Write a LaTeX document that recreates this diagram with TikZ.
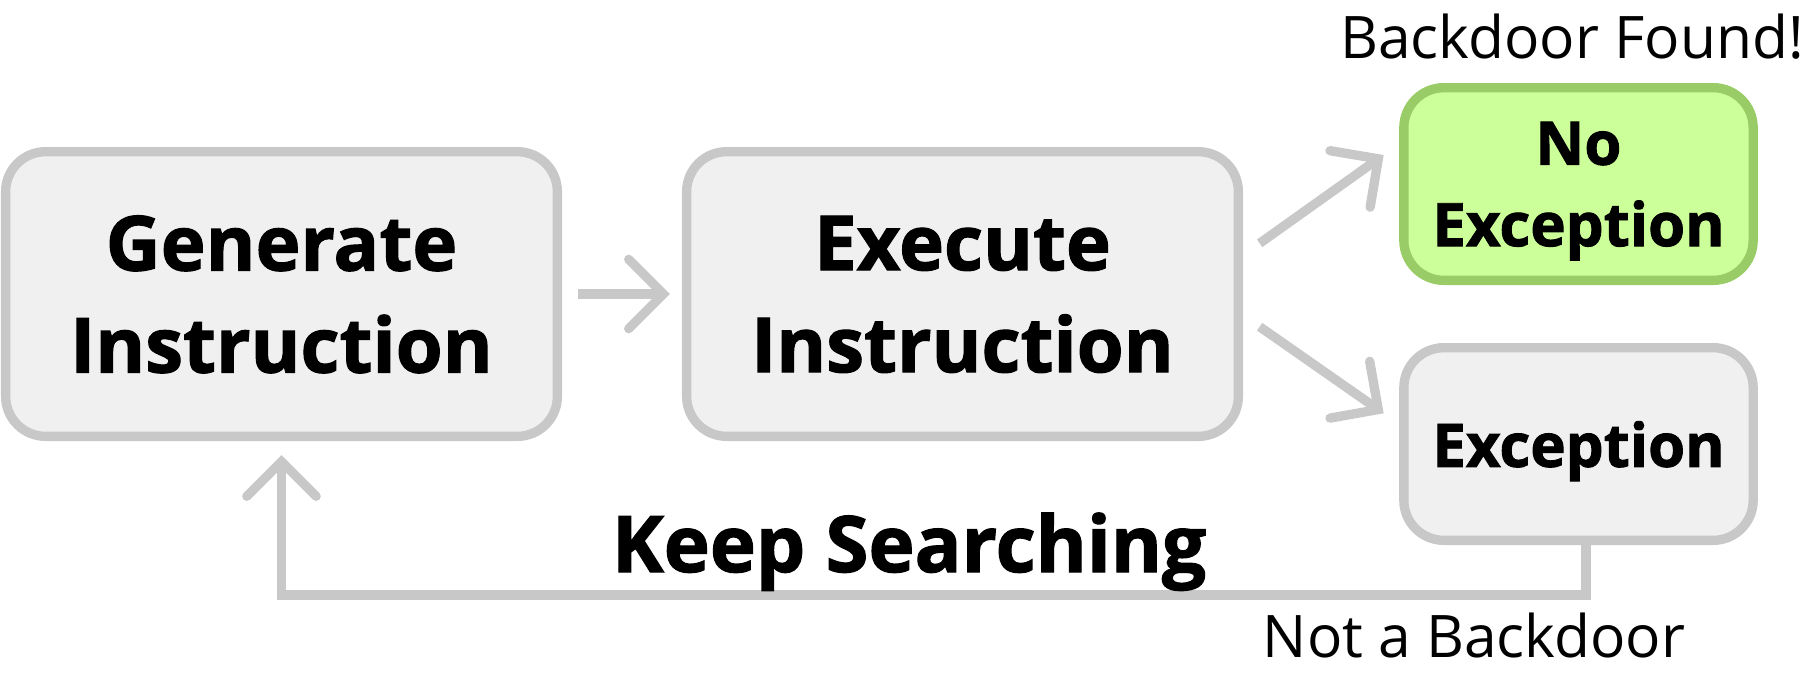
\documentclass[tikz,border=0pt]{standalone}
\usepackage{fontspec}
\setmainfont{Open Sans}[BoldFeatures={FakeBold=1.5}]
\usetikzlibrary{arrows.meta,calc}

\definecolor{linegray}{RGB}{200,200,200}
\definecolor{boxgray}{RGB}{240,240,240}
\definecolor{okfill}{RGB}{204,255,153}
\definecolor{okline}{RGB}{153,204,102}

\tikzset{every picture/.style={line width=7pt}}
\tikzset{
  bigbox/.style={draw=linegray, fill=boxgray, rounded corners=30pt,
    minimum width=413.8pt, minimum height=213.5pt, inner sep=0pt,
    align=center, text depth=0pt, font=\fontsize{57}{76.5}\selectfont\bfseries},
  smallbox/.style={draw=linegray, fill=boxgray, rounded corners=30pt,
    minimum width=262pt, minimum height=144.5pt, inner sep=0pt,
    align=center, text depth=0pt, font=\fontsize{45}{61}\selectfont\bfseries},
  okbox/.style={smallbox, draw=okline, fill=okfill},
  flow/.style={draw=linegray, -{Straight Barb[length=26pt, width=52pt, line cap=round, line join=miter]}},
  note/.style={inner sep=0pt, text depth=0pt, font=\fontsize{44}{53}\selectfont},
  keeplabel/.style={inner sep=0pt, text depth=0pt, font=\fontsize{58.5}{68}\selectfont\bfseries}
}

\begin{document}
\begin{tikzpicture}[x=0.75pt,y=0.75pt,yscale=-1,xscale=1]
    \useasboundingbox (0,0) rectangle (1810,676);

    %Rounded Rect [gen]
    \node[bigbox] (gen) at (281.5,294) {Generate\\Instruction};
    %Rounded Rect [exe]
    \node[bigbox] (exe) at (962.5,294) {Execute\\Instruction};
    %Rounded Rect [noexc]
    \node[okbox] (noexc) at (1578.5,184) {No\\Exception};
    %Rounded Rect [exc]
    \node[smallbox] (exc) at (1578.5,444) {Exception};

    %Text Node
    \node[note, anchor=south] (found) at ($(noexc.north)+(-6.5,-20)$) {Backdoor Found!};

    %Straight Lines [gen -> exe]
    \draw[flow] ($(gen.east)+(16,0)$) -- ($(exe.west)+(-12,0)$);
    %Straight Lines [exe -> noexc]
    \draw[flow] ($(exe.east)+(16.6,-50.7)$) -- ($(noexc.west)+(-15.5,-29)$);
    %Straight Lines [exe -> exc]
    \draw[flow] ($(exe.east)+(16.6,32.7)$) -- ($(exc.west)+(-15.5,-30.7)$);

    %Elbow Lines [exc -> gen]
    \coordinate (turn) at ($(exc.south)+(7.5,50)$);
    \draw[flow] ($(exc.south)+(7.5,0)$) -- (turn) -| ($(gen.south)+(0,14)$);

    %Text Node
    \node[keeplabel, anchor=base] (keep) at (909,572) {Keep Searching};
    %Text Node
    \node[note, anchor=base] (notbd) at ($(turn)+(-112,62)$) {Not a Backdoor};

\end{tikzpicture}
\end{document}
